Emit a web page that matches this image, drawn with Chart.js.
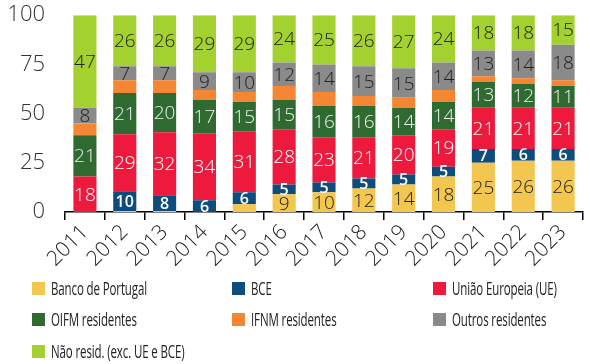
<!DOCTYPE html>
<html>
<head>
<meta charset="utf-8">
<script src="https://cdn.jsdelivr.net/npm/chart.js@4"></script>
<style>
  body { margin: 0; background: #fff; }
  #wrap { position: relative; width: 590px; height: 364px; overflow: hidden; }
  #myChart { position: absolute; left: 0; top: -10px; }
  #legend { position: absolute; left: 0; top: 0; width: 590px; height: 364px; pointer-events: none; }
  .item { position: absolute; display: flex; align-items: center; height: 22px;
          font-family: "Open Sans", sans-serif; font-size: 18px; color: #222; white-space: nowrap; }
  .box { width: 13px; height: 13px; margin-right: 6px; flex: none; }
  .txt { display: inline-block; transform: scaleX(0.64); transform-origin: left center; letter-spacing: -0.2px; }
</style>
</head>
<body>
<div id="wrap">
  <canvas id="myChart" width="590" height="286"></canvas>
  <div id="legend"></div>
</div>
<script>
const years = ['2011', '2012', '2013', '2014', '2015', '2016', '2017', '2018', '2019', '2020', '2021', '2022', '2023']

// shares in % (bottom to top)
const bancoPortugal = [0, 0.5, 0.5, 0, 4, 9, 10, 12, 14, 18, 25, 26, 26]
const bce = [0, 10, 8, 6, 6, 5, 5, 5, 5, 5, 7, 6, 6]
const uniaoEuropeia = [18, 29, 32, 34, 31, 28, 23, 21, 20, 19, 21, 21, 21]
const oifm = [21, 21, 20, 17, 15, 15, 16, 16, 14, 14, 13, 12, 11]
const ifnm = [6, 6.5, 6.5, 5, 5, 7, 7, 5, 5, 6, 3, 3, 3]
const outros = [8, 7, 7, 9, 10, 12, 14, 15, 15, 14, 13, 14, 18]
const naoResid = [47, 26, 26, 29, 29, 24, 25, 26, 27, 24, 18, 18, 15]

const yTicks = [0, 25, 50, 75, 100]

const series = [
  { label: 'Banco de Portugal', data: bancoPortugal, color: '#F3C74F', text: '#222' },
  { label: 'BCE', data: bce, color: '#0E4C7E', text: '#fff' },
  { label: 'União Europeia (UE)', data: uniaoEuropeia, color: '#EE1A3E', text: '#fff' },
  { label: 'OIFM residentes', data: oifm, color: '#2F6A31', text: '#eee' },
  { label: 'IFNM residentes', data: ifnm, color: '#F58634', text: null },
  { label: 'Outros residentes', data: outros, color: '#8A8A8A', text: '#222' },
  { label: 'Não resid. (exc. UE e BCE)', data: naoResid, color: '#A3D12F', text: '#222' }
]

// draw the value inside each segment
const segmentLabels = {
  id: 'segmentLabels',
  afterDatasetsDraw(chart) {
    const c = chart.ctx
    chart.data.datasets.forEach((ds, i) => {
      const s = series[i]
      if (!s.text) return
      chart.getDatasetMeta(i).data.forEach((bar, j) => {
        const v = ds.data[j]
        if (v < 5) return
        c.save()
        c.fillStyle = s.text
        c.font = (i === 1 ? '600 16px' : '300 19px') + ' "Open Sans", sans-serif'
        c.textAlign = 'center'
        c.textBaseline = 'middle'
        c.fillText(String(Math.round(v)), bar.x, (bar.y + bar.base) / 2 + 1)
        c.restore()
      })
    })
  }
}

const ctx = document.getElementById('myChart').getContext('2d')

const myChart = new Chart(ctx, {
  type: 'bar',
  data: {
    labels: years,
    datasets: series.map(s => ({
      label: s.label,
      data: s.data,
      backgroundColor: s.color,
      borderWidth: 0,
      categoryPercentage: 1,
      barPercentage: 0.58
    }))
  },
  options: {
    responsive: false,
    animation: false,
    layout: { padding: { top: 0, right: 7 } },
    plugins: { legend: { display: false }, tooltip: { enabled: false } },
    scales: {
      x: {
        stacked: true,
        grid: { offset: true, drawOnChartArea: false, drawTicks: true, tickLength: 8, color: '#000', lineWidth: 1.5 },
        border: { color: '#000', width: 1.5 },
        ticks: { color: '#222', font: { family: 'Open Sans', size: 21, weight: 300 }, maxRotation: 45, minRotation: 45, autoSkip: false, padding: 0 },
        afterFit(scale) { scale.height = 64 }
      },
      y: {
        stacked: true,
        min: 0,
        max: 100,
        afterBuildTicks(scale) { scale.ticks = yTicks.map(v => ({ value: v })) },
        grid: { display: false },
        border: { display: false },
        ticks: { color: '#333', font: { family: 'Open Sans', size: 22, weight: 300 }, padding: 12 },
        afterFit(scale) { scale.width = 65 }
      }
    }
  },
  plugins: [segmentLabels]
})

// html legend in three columns
const legendCols = [32, 232, 433]
const legendRows = [288, 319, 351]
const $legend = document.getElementById('legend')
series.forEach((s, i) => {
  const el = document.createElement('div')
  el.className = 'item'
  el.style.left = legendCols[i % 3] + 'px'
  el.style.top = (legendRows[Math.floor(i / 3)] - 11) + 'px'
  el.innerHTML = `<span class="box" style="background:${s.color}"></span><span class="txt"></span>`
  el.lastChild.textContent = s.label
  $legend.appendChild(el)
})
</script>
</body>
</html>
